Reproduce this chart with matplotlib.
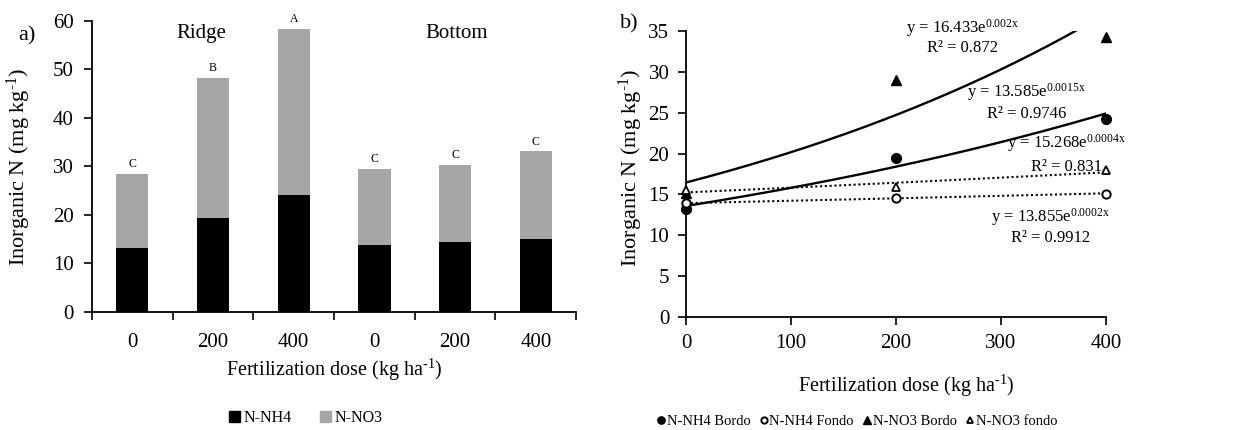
import numpy as np
import matplotlib
matplotlib.use("Agg")
import matplotlib.pyplot as plt
from matplotlib.patches import Patch

plt.rcParams['font.family'] = ['Liberation Serif', 'DejaVu Serif']
plt.rcParams['mathtext.fontset'] = 'custom'
plt.rcParams['mathtext.rm'] = 'Liberation Serif'
plt.rcParams['mathtext.it'] = 'Liberation Serif'

# panel a) stacked bars
dose_labels = ['0', '200', '400', '0', '200', '400']
nh4 = [13.2, 19.4, 24.2, 13.8, 14.5, 15.1]
no3 = [15.2, 28.9, 34.1, 15.6, 15.8, 18.0]
letters = ['C', 'B', 'A', 'C', 'C', 'C']

# panel b) scatter + exponential trendlines
doses = [0, 200, 400]
nh4_bordo = [13.2, 19.5, 24.2]
nh4_fondo = [13.9, 14.6, 15.1]
no3_bordo = [15.2, 29.0, 34.3]
no3_fondo = [15.5, 15.9, 18.0]
eq_texts = [
    (r'y = 16.433e$^{\mathregular{0.002x}}$', 'R² = 0.872'),
    (r'y = 13.585e$^{\mathregular{0.0015x}}$', 'R² = 0.9746'),
    (r'y = 15.268e$^{\mathregular{0.0004x}}$', 'R² = 0.831'),
    (r'y = 13.855e$^{\mathregular{0.0002x}}$', 'R² = 0.9912'),
]

ylab = r'Inorganic N (mg kg$^{\text{-1}}$)'
xlab = r'Fertilization dose (kg ha$^{\text{-1}}$)'

fig = plt.figure(figsize=(12.33, 4.30), dpi=100)

# ---------- a) ----------
ax1 = fig.add_axes([0.0746, 0.2744, 0.3927, 0.677])
x = np.arange(len(dose_labels))
ax1.bar(x, nh4, width=0.4, color='black', label='N-NH4')
ax1.bar(x, no3, width=0.4, bottom=nh4, color='#a6a6a6', label='N-NO3')
for i in range(len(x)):
    ax1.text(x[i], nh4[i] + no3[i] + 0.8, letters[i], ha='center', va='bottom', fontsize=8.5)
ax1.set_xlim(-0.5, 5.5)
ax1.set_ylim(0, 60)
ax1.set_yticks(range(0, 61, 10))
ax1.set_xticks(np.arange(-0.5, 6, 1))
ax1.set_xticklabels([])
ax1.set_xticks(x, minor=True)
ax1.set_xticklabels(dose_labels, minor=True)
ax1.tick_params(axis='x', which='minor', length=0, pad=15)
ax1.tick_params(axis='x', which='major', length=6, width=1.2)
ax1.tick_params(axis='y', length=6, width=1.2, pad=7)
ax1.tick_params(which='both', labelsize=15)
for s in ['top', 'right']:
    ax1.spines[s].set_visible(False)
for s in ['left', 'bottom']:
    ax1.spines[s].set_linewidth(1.3)
ax1.set_ylabel(ylab, fontsize=16)
ax1.yaxis.set_label_coords(-0.122, 0.50)
ax1.set_xlabel(xlab, fontsize=14.5)
ax1.xaxis.set_label_coords(0.5, -0.155)
ax1.text(0.86, 57.5, 'Ridge', ha='center', va='center', fontsize=15)
ax1.text(4.02, 57.5, 'Bottom', ha='center', va='center', fontsize=15)
ax1.legend(handles=[Patch(color='black', label='N-NH4'), Patch(color='#a6a6a6', label='N-NO3')],
           loc='center', bbox_to_anchor=(0.248, 0.028), bbox_transform=fig.transFigure,
           ncol=2, frameon=False, fontsize=11.5, handlelength=0.7, handleheight=0.7,
           handletextpad=0.2, columnspacing=1.8)
fig.text(0.022, 0.916, 'a)', fontsize=16, ha='center', va='center')

# ---------- b) ----------
ax2 = fig.add_axes([0.5564, 0.2628, 0.3406, 0.665])
xs = np.linspace(0, 400, 200)
series = [(no3_bordo, '-'), (nh4_bordo, '-'), (no3_fondo, ':'), (nh4_fondo, ':')]
for vals, ls in series:
    b, lna = np.polyfit(doses, np.log(vals), 1)
    if ls == '-':
        ax2.plot(xs, np.exp(lna) * np.exp(b * xs), color='black', ls='-', lw=1.7, zorder=2)
    else:
        ax2.plot(xs, np.exp(lna) * np.exp(b * xs), color='black', ls=(0, (1, 1.3)), lw=1.5, zorder=2)
ax2.plot(doses, nh4_bordo, 'o', color='black', ms=7, label='N-NH4 Bordo', zorder=3, clip_on=False)
ax2.plot(doses, nh4_fondo, 'o', mfc='white', mec='black', mew=1.4, ms=6, label='N-NH4 Fondo', zorder=3, clip_on=False)
ax2.plot(doses, no3_bordo, '^', color='black', ms=7, label='N-NO3 Bordo', zorder=3, clip_on=False)
ax2.plot(doses, no3_fondo, '^', mfc='white', mec='black', mew=1.3, ms=6, label='N-NO3 fondo', zorder=3, clip_on=False)
ax2.set_xlim(0, 400)
ax2.set_ylim(0, 35)
ax2.set_xticks(range(0, 401, 100))
ax2.set_yticks(range(0, 36, 5))
ax2.tick_params(length=6, width=1.2, labelsize=15)
ax2.tick_params(axis='x', pad=6)
ax2.tick_params(axis='y', pad=6)
for s in ['top', 'right']:
    ax2.spines[s].set_visible(False)
for s in ['left', 'bottom']:
    ax2.spines[s].set_linewidth(1.3)
ax2.set_ylabel(ylab, fontsize=16)
ax2.yaxis.set_label_coords(-0.097, 0.52)
ax2.set_xlabel(xlab, fontsize=14.5)
ax2.xaxis.set_label_coords(0.525, -0.195)
eq_pos = [(263, 35.4, 32.9), (324, 27.5, 24.9), (362, 21.3, 18.4), (347, 12.2, 9.7)]
for (eq, r2), (ex, ey, ry) in zip(eq_texts, eq_pos):
    ax2.text(ex, ey, eq, ha='center', va='center', fontsize=12, clip_on=False)
    ax2.text(ex, ry, r2, ha='center', va='center', fontsize=12, clip_on=False)
ax2.legend(loc='center', bbox_to_anchor=(0.695, 0.019), bbox_transform=fig.transFigure,
           ncol=4, frameon=False, fontsize=10.5, handlelength=0.6, handletextpad=0.1,
           columnspacing=0.6, markerscale=0.75)
fig.text(0.510, 0.944, 'b)', fontsize=16, ha='center', va='center')

fig.savefig('out.png', dpi=100)
